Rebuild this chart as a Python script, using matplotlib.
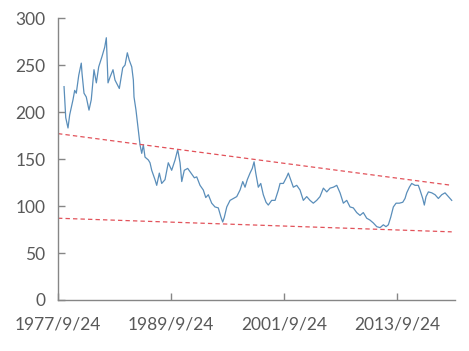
import matplotlib
matplotlib.use("Agg")
import matplotlib.pyplot as plt

# series (decimal year, value)
years = [1978.37, 1978.55, 1978.79, 1978.97, 1979.32, 1979.50, 1979.67, 1979.93,
         1980.20, 1980.28, 1980.49, 1980.73, 1981.02, 1981.26, 1981.55, 1981.80,
         1982.05, 1982.40, 1982.69, 1982.86, 1983.04, 1983.25, 1983.57, 1983.78,
         1984.24, 1984.60, 1984.85, 1985.09, 1985.30, 1985.56, 1985.73, 1985.80,
         1986.01, 1986.26, 1986.44, 1986.62, 1986.79, 1986.97, 1987.32, 1987.50,
         1987.68, 1988.03, 1988.21, 1988.49, 1988.74, 1989.09, 1989.44, 1989.80,
         1990.16, 1990.44, 1990.69, 1990.87, 1991.14, 1991.50, 1991.85, 1992.21,
         1992.46, 1992.81, 1993.16, 1993.42, 1993.69, 1994.05, 1994.40, 1994.75,
         1995.04, 1995.22, 1995.39, 1995.65, 1996.00, 1996.35, 1996.71, 1997.06,
         1997.35, 1997.59, 1997.83, 1998.12, 1998.36, 1998.55, 1998.73, 1999.00,
         1999.26, 1999.53, 1999.82, 2000.06, 2000.42, 2000.78, 2001.13, 2001.31,
         2001.66, 2002.02, 2002.19, 2002.44, 2002.72, 2003.08, 2003.43, 2003.78,
         2004.14, 2004.49, 2004.84, 2005.20, 2005.55, 2005.91, 2006.27, 2006.62,
         2006.97, 2007.33, 2007.68, 2008.03, 2008.39, 2008.74, 2009.09, 2009.45,
         2009.80, 2010.15, 2010.51, 2010.86, 2011.21, 2011.58, 2011.93, 2012.28,
         2012.56, 2012.81, 2013.06, 2013.34, 2013.63, 2013.98, 2014.34, 2014.58,
         2014.76, 2015.04, 2015.29, 2015.64, 2015.99, 2016.17, 2016.46, 2016.63,
         2016.81, 2017.06, 2017.42, 2017.77, 2018.12, 2018.48, 2018.83, 2019.18,
         2019.54]
values = [227, 194, 183, 197, 213, 223, 220, 239,
          252, 241, 220, 216, 202, 213, 245, 231,
          248, 259, 269, 279, 231, 237, 245, 234,
          225, 247, 250, 263, 255, 248, 234, 216,
          202, 181, 165, 156, 165, 152, 149, 146,
          138, 128, 122, 135, 124, 128, 146, 138,
          149, 160, 146, 126, 138, 140, 135, 130,
          131, 122, 117, 109, 112, 103, 99, 98,
          88, 83, 88, 99, 106, 108, 110, 117,
          126, 120, 128, 135, 140, 147, 135, 120,
          124, 112, 104, 101, 106, 106, 117, 124,
          124, 131, 135, 128, 120, 122, 117, 106,
          110, 106, 103, 106, 110, 119, 115, 119,
          120, 122, 114, 103, 106, 99, 98, 93,
          90, 93, 87, 85, 82, 78, 77, 80,
          78, 80, 88, 99, 103, 103, 104, 108,
          114, 120, 124, 122, 122, 117, 108, 101,
          110, 115, 114, 112, 108, 112, 114, 110,
          106]

# dashed channel lines: (start year, end year), (start value, end value)
trend_x = [1977.73, 2019.54]
upper_trend = [177, 122]
lower_trend = [87, 72.5]

tick_years = [1977.73, 1989.73, 2001.73, 2013.73]
tick_labels = ["1977/9/24", "1989/9/24", "2001/9/24", "2013/9/24"]
y_ticks = [0, 50, 100, 150, 200, 250, 300]

plt.rcParams["font.family"] = ["Lato", "DejaVu Sans"]

fig = plt.figure(figsize=(4.69, 3.51), dpi=100)
ax = fig.add_axes([0.1237, 0.1453, 0.8465, 0.8034])

ax.plot(years, values, color="#5A8EBA", linewidth=0.9)
ax.plot(trend_x, upper_trend, color="#E2525A", linewidth=0.9, dashes=(3.5, 2.5))
ax.plot(trend_x, lower_trend, color="#E2525A", linewidth=0.9, dashes=(3.5, 2.5))

ax.set_xlim(1977.73, 2019.89)
ax.set_ylim(0, 300)
ax.set_xticks(tick_years)
ax.set_xticklabels(tick_labels)
ax.set_yticks(y_ticks)

for side in ("top", "right"):
    ax.spines[side].set_visible(False)
for side in ("left", "bottom"):
    ax.spines[side].set_color("#868686")
    ax.spines[side].set_linewidth(1.0)

ax.tick_params(axis="both", direction="in", length=5, width=1.0,
               color="#868686", labelcolor="#595959", labelsize=12.5)
ax.tick_params(axis="y", pad=9)
ax.tick_params(axis="x", pad=12)

fig.savefig("out.png", dpi=100)
